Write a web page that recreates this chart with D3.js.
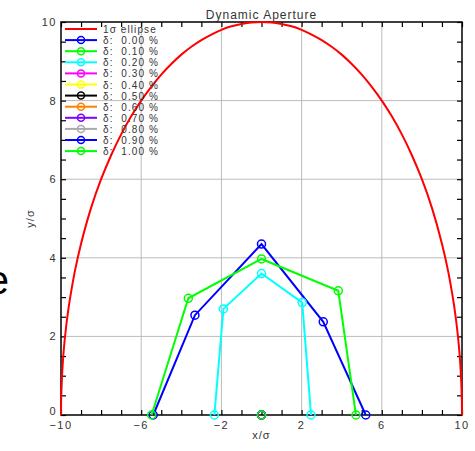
<!DOCTYPE html>
<html>
<head>
<meta charset="utf-8">
<script src="https://cdn.jsdelivr.net/npm/d3@7"></script>
<style>
  body { margin: 0; background: #fff; }
  text { font-family: "Liberation Sans", Arial, sans-serif; }
</style>
</head>
<body>
<div class="viz"></div>
<script>
// dynamic aperture plot

var x_ticks = [-10, -6, -2, 2, 6, 10]
var y_ticks = [0, 2, 4, 6, 8, 10]
var grid_x = [-6, -2, 2, 6]
var grid_y = [2, 4, 6, 8]

// 1 sigma ellipse (upper half)
var ellipse_x = [-10, -9.99, -9.9, -9.75, -9.6, -9.5, -9.3, -9, -8.5, -8, -7.5, -7, -6.5, -6, -5.5, -5, -4.5, -4,
                 -3.5, -3, -2.5, -2, -1.5, -1, -0.5, 0,
                 0.5, 1, 1.5, 2, 2.5, 3, 3.5, 4, 4.5, 5, 5.5, 6, 6.5, 7, 7.5, 8, 8.5, 9, 9.3, 9.5, 9.6, 9.75, 9.9, 9.99, 10]
var ellipse_y = [0, 0.45, 1.41, 2.22, 2.80, 3.12, 3.68, 4.36, 5.27, 6.0, 6.61, 7.14, 7.60, 8.0, 8.35, 8.66, 8.93, 9.17,
                 9.37, 9.54, 9.68, 9.80, 9.89, 9.95, 9.99, 10,
                 9.99, 9.95, 9.89, 9.80, 9.68, 9.54, 9.37, 9.17, 8.93, 8.66, 8.35, 8.0, 7.60, 7.14, 6.61, 6.0, 5.27, 4.36, 3.68, 3.12, 2.80, 2.22, 1.41, 0.45, 0]

var deltas = ['0.00', '0.10', '0.20', '0.30', '0.40', '0.50', '0.60', '0.70', '0.80', '0.90', '1.00']
var colors = ['#0000ff', '#00ff00', '#00ffff', '#ff00ff', '#ffff00', '#000000', '#ff8000', '#8000ff', '#aaaaaa', '#0000ff', '#00ff00']

var da_x = [
    [-5.40, -3.32, 0, 3.08, 5.20],
    [-5.48, -3.65, 0, 3.83, 4.71],
    [-2.35, -1.90, 0, 2.03, 2.47],
    [0], [0], [0], [0], [0], [0], [0], [0]
]
var da_y = [
    [0, 2.54, 4.35, 2.37, 0],
    [0, 2.97, 3.97, 3.16, 0],
    [0, 2.70, 3.60, 2.86, 0],
    [0], [0], [0], [0], [0], [0], [0], [0]
]

var width = 475, height = 451
var margin = {top: 22, right: 13, bottom: 36, left: 61}

var svg = d3.select('.viz')
    .append('svg')
    .attr('width', width)
    .attr('height', height)

var x = d3.scaleLinear().domain([-10, 10]).range([margin.left, width - margin.right])
var y = d3.scaleLinear().domain([0, 10]).range([height - margin.bottom, margin.top])

// stray letter at the left edge
svg.append('text')
    .attr('x', 9).attr('y', 294)
    .attr('text-anchor', 'end')
    .attr('font-size', '40px')
    .text('e')

// grid
svg.append('g').selectAll('line').data(grid_x).enter().append('line')
    .attr('x1', d => x(d)).attr('x2', d => x(d))
    .attr('y1', y(0)).attr('y2', y(10))
    .attr('stroke', '#bbbbbb').attr('stroke-width', 1)
svg.append('g').selectAll('line').data(grid_y).enter().append('line')
    .attr('y1', d => y(d)).attr('y2', d => y(d))
    .attr('x1', x(-10)).attr('x2', x(10))
    .attr('stroke', '#bbbbbb').attr('stroke-width', 1)

// axes, ticks pointing inward
svg.append('g')
    .attr('transform', `translate(0, ${y(0)})`)
    .call(d3.axisTop(x).tickValues(d3.range(-10, 11, 1)).tickSize(5).tickFormat(''))
svg.append('g')
    .attr('transform', `translate(0, ${y(10)})`)
    .call(d3.axisBottom(x).tickValues(d3.range(-10, 11, 1)).tickSize(5).tickFormat(''))
svg.append('g')
    .attr('transform', `translate(${x(-10)}, 0)`)
    .call(d3.axisRight(y).tickValues(d3.range(0, 10.1, 0.5)).tickSize(5).tickFormat(''))
svg.append('g')
    .attr('transform', `translate(${x(10)}, 0)`)
    .call(d3.axisLeft(y).tickValues(d3.range(0, 10.1, 0.5)).tickSize(5).tickFormat(''))

svg.selectAll('.domain').remove()
svg.selectAll('.tick line').attr('stroke', '#000').attr('stroke-width', 1.2)

svg.append('rect')
    .attr('x', x(-10)).attr('y', y(10))
    .attr('width', x(10) - x(-10)).attr('height', y(0) - y(10))
    .attr('fill', 'none').attr('stroke', '#000').attr('stroke-width', 1.5)

// tick labels
svg.append('g').selectAll('text').data(x_ticks).enter().append('text')
    .attr('x', d => x(d)).attr('y', y(0) + 14)
    .attr('text-anchor', 'middle')
    .attr('font-size', '11px').attr('fill', '#333').attr('letter-spacing', '1.5px')
    .text(d => d < 0 ? '\u2212' + Math.abs(d) : d)
svg.append('g').selectAll('text').data(y_ticks).enter().append('text')
    .attr('x', x(-10) - 4).attr('y', d => y(d) + (d == 0 ? 0 : 4))
    .attr('text-anchor', 'end')
    .attr('font-size', '11px').attr('fill', '#333').attr('letter-spacing', '1.5px')
    .text(d => d)

// labels
svg.append('text')
    .attr('x', (x(-10) + x(10)) / 2).attr('y', 19)
    .attr('text-anchor', 'middle').attr('font-size', '12px').attr('fill', '#333')
    .attr('letter-spacing', '1px')
    .text('Dynamic Aperture')
svg.append('text')
    .attr('x', (x(-10) + x(10)) / 2).attr('y', 439)
    .attr('text-anchor', 'middle').attr('font-size', '11px').attr('fill', '#333')
    .attr('letter-spacing', '1px')
    .text('x/\u03c3')
svg.append('text')
    .attr('transform', `translate(34, ${(y(0) + y(10)) / 2}) rotate(-90)`)
    .attr('text-anchor', 'middle').attr('font-size', '11px').attr('fill', '#333')
    .attr('letter-spacing', '1px')
    .text('y/\u03c3')

var line = d3.line().x(d => x(d[0])).y(d => y(d[1]))

// ellipse
svg.append('path')
    .datum(ellipse_x.map((v, i) => [v, ellipse_y[i]]))
    .attr('d', line.curve(d3.curveCatmullRom))
    .attr('fill', 'none').attr('stroke', '#ff0000').attr('stroke-width', 2)
line.curve(d3.curveLinear)

// aperture curves
deltas.forEach((dl, k) => {
    var pts = da_x[k].map((v, i) => [v, da_y[k][i]])
    var g = svg.append('g')
    g.append('path').datum(pts).attr('d', line)
        .attr('fill', 'none').attr('stroke', colors[k]).attr('stroke-width', 2)
    g.selectAll('circle').data(pts).enter().append('circle')
        .attr('cx', d => x(d[0])).attr('cy', d => y(d[1])).attr('r', 4)
        .attr('fill', 'none').attr('stroke', colors[k]).attr('stroke-width', 1.5)
})

// legend
var leg = svg.append('g').attr('transform', 'translate(65, 29)')
var row_h = 11.1
leg.append('line').attr('x1', 0).attr('x2', 32).attr('y1', 0).attr('y2', 0)
    .attr('stroke', '#ff0000').attr('stroke-width', 2)
leg.append('text').attr('x', 38).attr('y', 4).attr('font-size', '10px').attr('fill', '#333')
    .attr('letter-spacing', '1.1px')
    .text('1\u03c3 ellipse')
deltas.forEach((dl, k) => {
    var ry = (k + 1) * row_h
    leg.append('line').attr('x1', 0).attr('x2', 32).attr('y1', ry).attr('y2', ry)
        .attr('stroke', colors[k]).attr('stroke-width', 2)
    leg.append('circle').attr('cx', 16).attr('cy', ry).attr('r', 3.5)
        .attr('fill', 'none').attr('stroke', colors[k]).attr('stroke-width', 1.5)
    leg.append('text').attr('x', 38).attr('y', ry + 4)
        .attr('font-size', '10px').attr('fill', '#333')
        .attr('letter-spacing', '1.1px')
        .style('white-space', 'pre')
        .text('\u03b4:  ' + dl + ' %')
})
</script>
</body>
</html>
